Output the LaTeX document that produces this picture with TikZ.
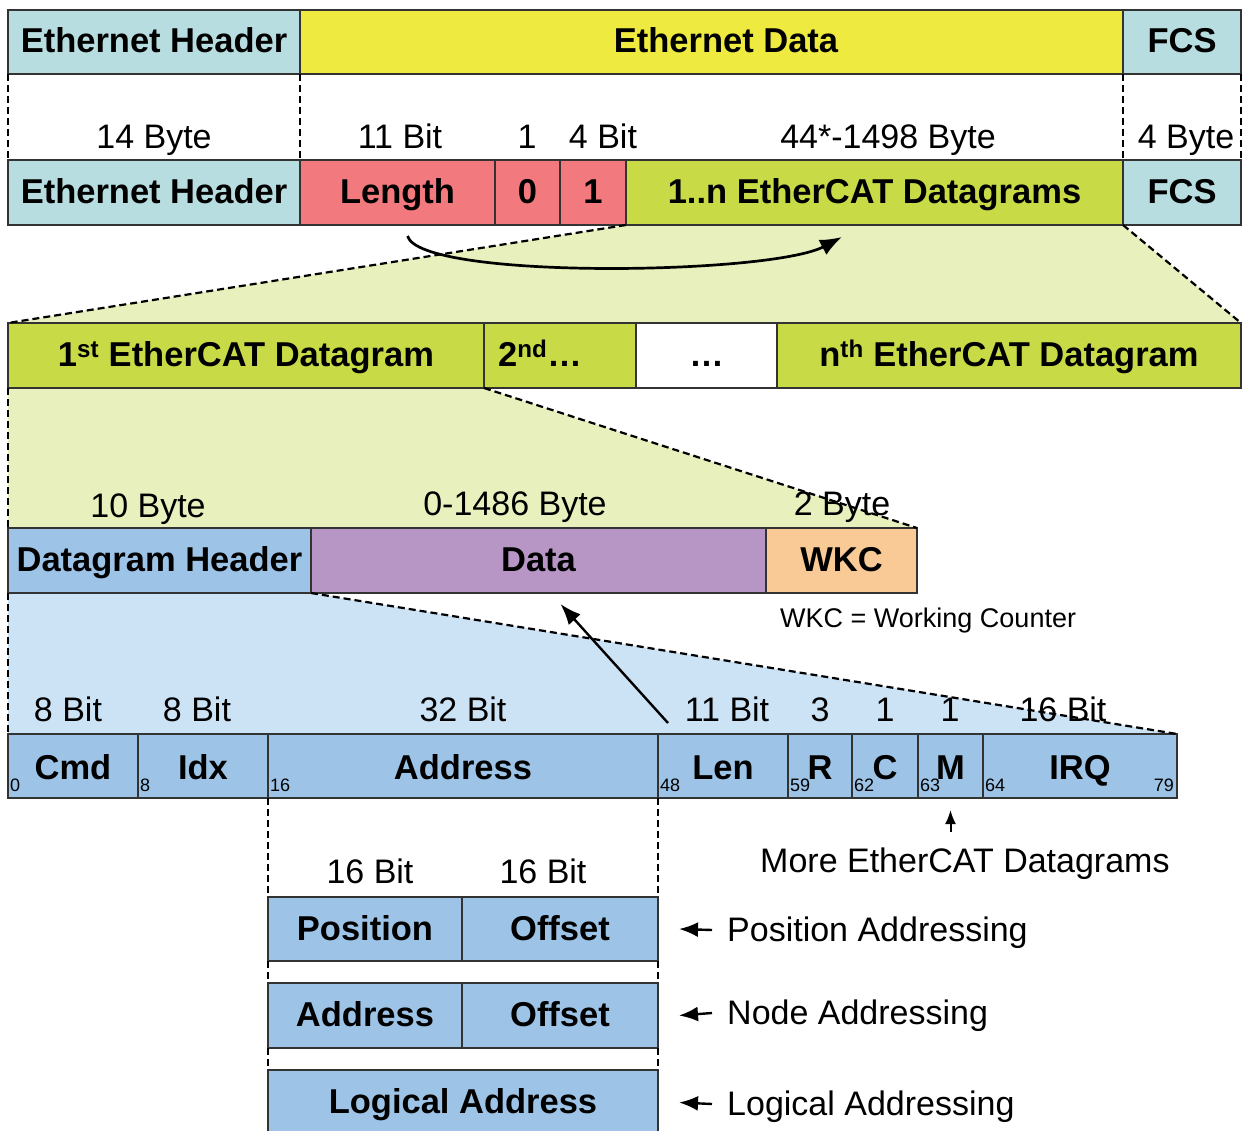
\documentclass[tikz,border=0pt]{standalone}
\usepackage{fontspec}
\setmainfont{Liberation Sans}
\usetikzlibrary{positioning,arrows.meta,backgrounds}
\definecolor{ethblue}{RGB}{183,221,225}
\definecolor{ethyellow}{RGB}{239,234,63}
\definecolor{lenred}{RGB}{242,121,125}
\definecolor{ecatgreen}{RGB}{200,219,70}
\definecolor{zoomgreen}{RGB}{232,240,189}
\definecolor{hdrblue}{RGB}{157,195,230}
\definecolor{datapurple}{RGB}{183,150,198}
\definecolor{wkcorange}{RGB}{249,201,150}
\definecolor{zoomblue}{RGB}{204,226,245}
\tikzset{x=1pt,y=-1pt,
  field/.style={draw=black!80,line width=1.3pt,inner sep=0pt,outer sep=0pt,minimum height=65pt,text height=22pt,text depth=0pt,font=\fontsize{34.5}{38}\selectfont\bfseries},
  bitfield/.style={field,fill=hdrblue,minimum height=64pt,text height=27pt},
  size/.style={font=\fontsize{34}{38}\selectfont,inner sep=0pt,anchor=base},
  note/.style={font=\fontsize{34}{38}\selectfont,inner sep=0pt},
  bitno/.style={font=\fontsize{18}{20}\selectfont,inner sep=0pt},
  zoomline/.style={line width=2.2pt,dash pattern=on 7pt off 4pt},
  pointer/.style={line width=2.4pt,-{Latex[length=19pt,width=15pt]}}}

\begin{document}
\begin{tikzpicture}
        \useasboundingbox (0,0) rectangle (1242,1131);

        \node [field,fill=ethblue,minimum width=292pt,minimum height=64pt,anchor=north west] (ethhdr) at (8,10) {Ethernet Header};
        \node [field,fill=ethyellow,minimum width=823pt,minimum height=64pt] (ethdata) [right=0pt of ethhdr] {\hspace*{29pt}Ethernet Data};
        \node [field,fill=ethblue,minimum width=118pt,minimum height=64pt] (ethfcs) [right=0pt of ethdata] {FCS};

        \node [field,fill=ethblue,minimum width=292pt,anchor=north west] (ecathdr) at (8,160) {Ethernet Header};
        \node [field,fill=lenred,minimum width=195pt] (len) [right=0pt of ecathdr] {Length};
        \node [field,fill=lenred,minimum width=65pt] (res) [right=0pt of len] {0};
        \node [field,fill=lenred,minimum width=66pt] (type) [right=0pt of res] {1};
        \node [field,fill=ecatgreen,minimum width=497pt] (dgs) [right=0pt of type] {1..n EtherCAT Datagrams};
        \node [field,fill=ethblue,minimum width=118pt] (ecatfcs) [right=0pt of dgs] {FCS};

        \node [field,fill=ecatgreen,minimum width=476pt,anchor=north west] (dg1) at (8,323) {1\textsuperscript{st} EtherCAT Datagram};
        \node [field,fill=ecatgreen,minimum width=152pt] (dg2) [right=0pt of dg1] {2\textsuperscript{nd}\dots\hspace*{40pt}};
        \node [field,fill=white,minimum width=141pt] (dgdots) [right=0pt of dg2] {\dots};
        \node [field,fill=ecatgreen,minimum width=464pt] (dgn) [right=0pt of dgdots] {n\textsuperscript{th} EtherCAT Datagram};

        \node [field,fill=hdrblue,minimum width=303pt,anchor=north west] (dghdr) at (8,528) {Datagram Header};
        \node [field,fill=datapurple,minimum width=455pt] (data) [right=0pt of dghdr] {Data};
        \node [field,fill=wkcorange,minimum width=151pt] (wkc) [right=0pt of data] {WKC};

        \node [bitfield,minimum width=130pt,anchor=north west] (cmd) at (8,734) {Cmd};
        \node [bitfield,minimum width=130pt] (idx) [right=0pt of cmd] {Idx};
        \node [bitfield,minimum width=390pt] (addr) [right=0pt of idx] {Address};
        \node [bitfield,minimum width=130pt] (dlen) [right=0pt of addr] {Len};
        \node [bitfield,minimum width=64pt] (rbits) [right=0pt of dlen] {R};
        \node [bitfield,minimum width=66pt] (cbit) [right=0pt of rbits] {C};
        \node [bitfield,minimum width=65pt] (mbit) [right=0pt of cbit] {M};
        \node [bitfield,minimum width=194pt] (irq) [right=0pt of mbit] {IRQ};

        \node [field,fill=hdrblue,minimum width=194pt,minimum height=64pt,anchor=north west] (pos) at (268,897) {Position};
        \node [field,fill=hdrblue,minimum width=196pt,minimum height=64pt] (posoff) [right=0pt of pos] {Offset};
        \node [field,fill=hdrblue,minimum width=194pt,anchor=north west] (nodeaddr) at (268,983) {Address};
        \node [field,fill=hdrblue,minimum width=196pt] (nodeoff) [right=0pt of nodeaddr] {Offset};
        \node [field,fill=hdrblue,minimum width=390pt,anchor=north west] (logaddr) at (268,1070) {Logical Address};

        \begin{scope}[on background layer]
          \fill [zoomgreen] (dgs.south west) -- (dgs.south east) -- (dgn.north east) -- (dg1.north west) -- cycle;
          \fill [zoomgreen] (dg1.south west) -- (dg2.south west) -- (wkc.north east) -- (dghdr.north west) -- cycle;
          \fill [zoomblue] (dghdr.south west) -- (dghdr.south east) -- (irq.north east) -- (cmd.north west) -- cycle;
        \end{scope}

        \foreach \n/\t in {cmd/0,idx/8,addr/16,dlen/48,rbits/59,cbit/62,mbit/63,irq/64}
          \node [bitno,anchor=south west] (bit\t) at ([shift={(2,-6)}]\n.south west) {\t};
        \node [bitno,anchor=south east] (bit79) at ([shift={(-3,-6)}]irq.south east) {79};

        \node [size] (sethhdr) at (154,149) {14 Byte};
        \node [size] (slen) at (400,149) {11 Bit};
        \node [size] (sres) at (527,149) {1};
        \node [size] (stype) at (603,149) {4 Bit};
        \node [size] (sdgs) at (888,149) {44*-1498 Byte};
        \node [size] (sfcs) at (1186,149) {4 Byte};
        \node [size] (sdghdr) at (148,517) {10 Byte};
        \node [size] (sdata) at (515,515) {0-1486 Byte};
        \node [size] (swkc) at (842,515) {2 Byte};
        \node [size] (scmd) at (68,721) {8 Bit};
        \node [size] (sidx) at (197,721) {8 Bit};
        \node [size] (saddr) at (463,721) {32 Bit};
        \node [size] (sdlen) at (727,721) {11 Bit};
        \node [size] (srbits) at (820,721) {3};
        \node [size] (scbit) at (885,721) {1};
        \node [size] (smbit) at (950,721) {1};
        \node [size] (sirq) at (1063,721) {16 Bit};
        \node [size] (spos) at (370,883) {16 Bit};
        \node [size] (soff) at (543,883) {16 Bit};

        \node [note,font=\fontsize{27}{30}\selectfont,anchor=base west] (wkcnote) at (780,627) {WKC = Working Counter};
        \node [note,anchor=base west] (morenote) at (760,872) {More EtherCAT Datagrams};
        \node [note,anchor=base west] (posnote) at (727,941) {Position Addressing};
        \node [note,anchor=base west] (nodenote) at (727,1024) {Node Addressing};
        \node [note,anchor=base west] (lognote) at (727,1115) {Logical Addressing};

        \draw [zoomline] (ethhdr.south west) -- (ecathdr.north west);
        \draw [zoomline] (ethhdr.south east) -- (ecathdr.north east);
        \draw [zoomline] (ethfcs.south west) -- (ecatfcs.north west);
        \draw [zoomline] (ethfcs.south east) -- (ecatfcs.north east);
        \draw [zoomline] (dgs.south west) -- (dg1.north west);
        \draw [zoomline] (dgs.south east) -- (dgn.north east);
        \draw [zoomline] (dg1.south west) -- (dghdr.north west);
        \draw [zoomline] (dg2.south west) -- (wkc.north east);
        \draw [zoomline] (dghdr.south west) -- (cmd.north west);
        \draw [zoomline] (dghdr.south east) -- (irq.north east);
        \draw [zoomline] (addr.south west) -- (pos.north west);
        \draw [zoomline] (addr.south east) -- (posoff.north east);
        \draw [zoomline] (pos.south west) -- (nodeaddr.north west);
        \draw [zoomline] (posoff.south east) -- (nodeoff.north east);
        \draw [zoomline] (nodeaddr.south west) -- (logaddr.north west);
        \draw [zoomline] (nodeoff.south east) -- (logaddr.north east);

        \coordinate (lenref) at ([shift={(10,11)}]len.south);
        \coordinate (dgsref) at (842,237);
        \draw [pointer,line width=2.7pt,-{Latex[length=22pt,width=17pt]}] (lenref) .. controls (420,280) and (770,275) .. (dgsref);
        \coordinate (dlenref) at (668,723);
        \draw [pointer,-{Latex[length=21pt,width=16pt]}] (dlenref) -- ([shift={(22,11)}]data.south);
        \draw [pointer,line width=2pt,-{Latex[length=14pt,width=11pt]}] ([shift={(0,34)}]mbit.south) -- ([shift={(0,12)}]mbit.south);
        \draw [pointer] ([shift={(-15,-11)}]posnote.base west) -- ([xshift=21pt]posoff.east);
        \draw [pointer] ([shift={(-15,-11)}]nodenote.base west) -- ([xshift=21pt]nodeoff.east);
        \draw [pointer] ([shift={(-15,-11)}]lognote.base west) -- ([xshift=21pt]logaddr.east);
      \end{tikzpicture}
\end{document}
